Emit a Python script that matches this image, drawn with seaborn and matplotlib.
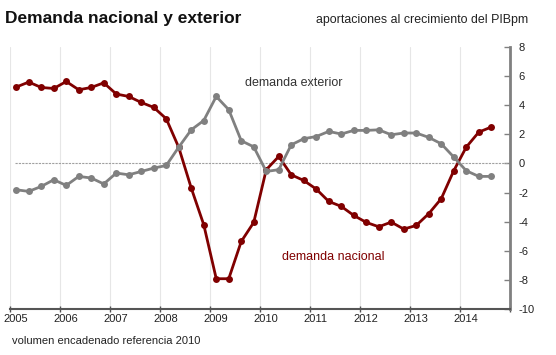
import numpy as np
import pandas as pd
import matplotlib
matplotlib.use('Agg')
import matplotlib.pyplot as plt
import matplotlib.transforms as mtransforms
import seaborn as sns

# trimestres 2005T1 .. 2014T3
years = [2005 + i // 4 for i in range(39)]
quarters = [i % 4 + 1 for i in range(39)]

demanda_nacional = [5.25, 5.59, 5.22, 5.15, 5.63, 5.06, 5.22, 5.54, 4.77, 4.60,
                    4.19, 3.85, 3.07, 1.10, -1.69, -4.21, -7.92, -7.92, -5.36, -4.05,
                    -0.43, 0.48, -0.78, -1.17, -1.76, -2.61, -2.95, -3.57, -4.05, -4.35,
                    -4.03, -4.51, -4.26, -3.45, -2.42, -0.50, 1.12, 2.15, 2.50]
demanda_exterior = [-1.81, -1.92, -1.58, -1.12, -1.51, -0.89, -1.00, -1.41, -0.66, -0.78,
                    -0.55, -0.32, -0.14, 1.12, 2.31, 2.95, 4.60, 3.69, 1.56, 1.14,
                    -0.55, -0.43, 1.28, 1.70, 1.85, 2.20, 2.02, 2.27, 2.27, 2.31,
                    1.97, 2.09, 2.09, 1.79, 1.35, 0.44, -0.50, -0.89, -0.89]
year_ticks = list(range(2005, 2016))
year_labels = [str(y) for y in range(2005, 2015)] + ['']
y_ticks = list(range(-10, 10, 2))

rojo = '#800000'
gris = '#808080'

sns.set_style('white')
plt.rcParams['font.family'] = ['Liberation Sans', 'DejaVu Sans']
plt.rcParams['axes.unicode_minus'] = False

df = pd.DataFrame({'year': years, 'q': quarters,
                   'nacional': demanda_nacional, 'exterior': demanda_exterior})
df['t'] = df['year'] + (df['q'] - 0.5) / 4

fig = plt.figure(figsize=(5.56, 3.55), dpi=100)
ax = fig.add_axes([10 / 556, 46 / 355, 500 / 556, 262 / 355])

for x in year_ticks:
    ax.axvline(x, color='#e6e6e6', lw=0.8, zorder=0)
ax.axhline(0, xmin=0.01, color='#a0a0a0', lw=0.8, ls=(0, (2, 1)), zorder=1)

sns.lineplot(data=df, x='t', y='nacional', ax=ax, color=rojo, lw=2.0,
             marker='o', markersize=5, markeredgewidth=0, zorder=3)
sns.lineplot(data=df, x='t', y='exterior', ax=ax, color=gris, lw=2.0,
             marker='o', markersize=5, markeredgewidth=0, zorder=4)

ax.set_xlim(2005, 2015)
ax.set_ylim(-10, 8)
ax.set_xlabel('')
ax.set_ylabel('')

ax.set_xticks(year_ticks)
ax.set_xticklabels(year_labels)
ax.set_yticks(y_ticks)
ax.yaxis.tick_right()
ax.tick_params(axis='x', direction='inout', length=5, width=1, color='#555555',
               labelsize=8, labelcolor='#222222', pad=1, bottom=True)
ax.tick_params(axis='y', direction='in', length=4, width=1, color=gris,
               labelsize=8, labelcolor='#222222', pad=6, right=True, left=False)
offset = mtransforms.ScaledTranslation(-7 / 100, 0, fig.dpi_scale_trans)
for lab in ax.get_xticklabels():
    lab.set_horizontalalignment('left')
    lab.set_transform(lab.get_transform() + offset)

for s in ['left', 'top']:
    ax.spines[s].set_visible(False)
ax.spines['right'].set_color(gris)
ax.spines['right'].set_linewidth(2)
ax.spines['bottom'].set_color('#555555')
ax.spines['bottom'].set_linewidth(1.5)

ax.text(2009.7, 5.5, 'demanda exterior', color='#333333', fontsize=9, ha='left', va='center')
ax.text(2010.45, -6.4, 'demanda nacional', color=rojo, fontsize=9, ha='left', va='center')

fig.text(5 / 556, 1 - 18 / 355, 'Demanda nacional y exterior', fontsize=12.5,
         fontweight='bold', ha='left', va='center', color='#111111')
fig.text(316 / 556, 1 - 20 / 355, 'aportaciones al crecimiento del PIBpm', fontsize=8.9,
         ha='left', va='center', color='#222222')
fig.text(12 / 556, 1 - 341 / 355, 'volumen encadenado referencia 2010', fontsize=8,
         ha='left', va='center', color='#222222')

fig.savefig('out.png', dpi=100)
